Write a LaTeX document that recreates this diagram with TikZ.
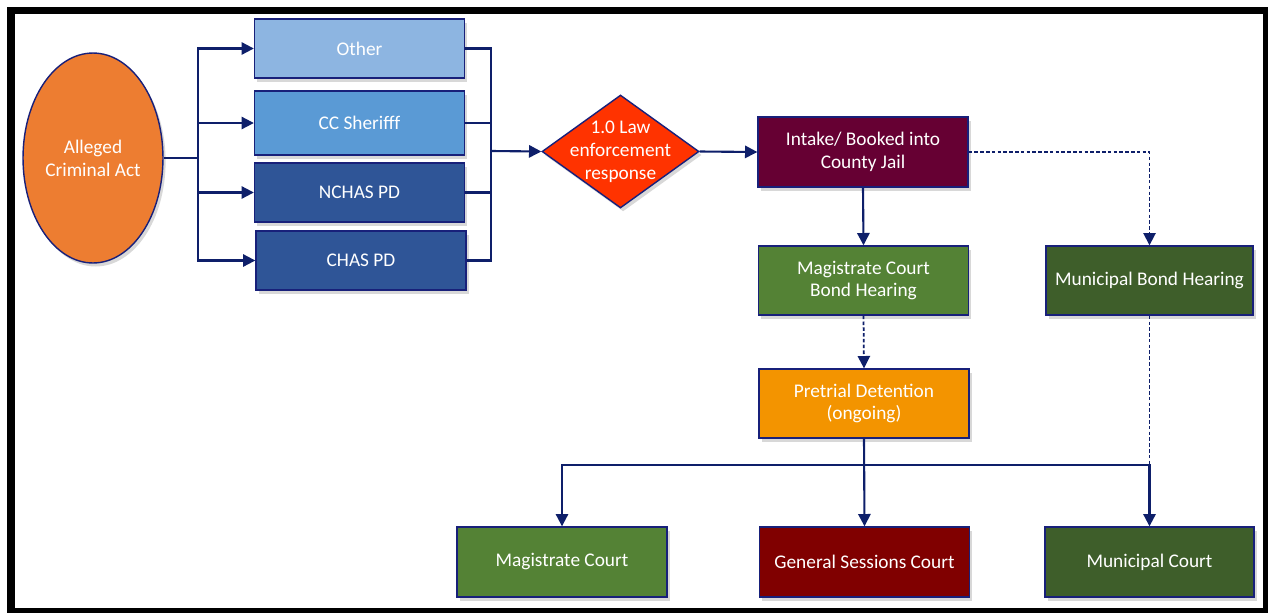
\documentclass[tikz,border=0pt]{standalone}
\usepackage{fontspec}
\setmainfont{Carlito}
\usetikzlibrary{shapes.geometric,shadows,arrows.meta}

\definecolor{trait}{HTML}{0E1F6A}
\definecolor{bordure}{HTML}{18207A}
\definecolor{orangeActe}{HTML}{ED7D31}
\definecolor{bleuClair}{HTML}{8DB5E1}
\definecolor{bleuMoyen}{HTML}{5A9AD5}
\definecolor{bleuFonce}{HTML}{2F5597}
\definecolor{rougeLoi}{HTML}{FF3300}
\definecolor{bordeaux}{HTML}{660033}
\definecolor{vert}{HTML}{548235}
\definecolor{vertFonce}{HTML}{3E5E2A}
\definecolor{orangeDet}{HTML}{F39400}
\definecolor{marron}{HTML}{800000}

\begin{document}
\begin{tikzpicture}[x=0.02cm, y=-0.02cm, font=\fontsize{11}{13}\selectfont,
  boite/.style={draw=bordure, line width=0.8pt, text=white, align=center,
    minimum width=4.2cm, minimum height=1.2cm, inner sep=2pt,
    drop shadow={shadow xshift=1.5pt, shadow yshift=-2pt, opacity=0.3}},
  lien/.style={draw=trait, line width=1.2pt},
  pointe/.style={-{Triangle[length=7pt,width=7pt]}},
  tirets/.style={draw=trait, line width=1pt, dash pattern=on 2pt off 1.3pt}]

% --- Cadre ---
\useasboundingbox (0,0) rectangle (1268,613);
\fill[black] (7,7) rectangle (1268,613);
\fill[white] (15,14) rectangle (1263,608);

% --- Acte et forces de l'ordre ---
\node[boite, shape=ellipse, fill=orangeActe, inner sep=0pt,
  minimum width=2.8cm, minimum height=4.2cm] (acte) at (93,158) {Alleged\\Criminal Act};
\node[boite, fill=bleuClair, minimum height=1.18cm] (autre)  at (359.5,48.5) {Other};
\node[boite, fill=bleuMoyen, minimum height=1.28cm] (sherif) at (359.5,123)  {CC Sherifff};
\node[boite, fill=bleuFonce, minimum height=1.18cm] (nchas)  at (359.5,192.5) {NCHAS PD};
\node[boite, fill=bleuFonce, minimum height=1.18cm] (chas)   at (361,260.5)  {CHAS PD};

% --- Losange ---
\node[boite, shape=diamond, fill=rougeLoi, inner sep=0pt,
  minimum width=3.14cm, minimum height=2.26cm] (loi) at (620.5,151.5) {};
\node[text=white, align=center] at (loi) {1.0 Law\\enforcement\\response};

% --- Prison et audiences ---
\node[boite, fill=bordeaux, minimum height=1.4cm]  (intake)  at (863,152)    {Intake/ Booked into\\County Jail};
\node[boite, fill=vert, minimum height=1.38cm]     (magbond) at (863.5,280.5) {Magistrate Court\\Bond Hearing};
\node[boite, fill=vertFonce, minimum width=4.14cm, minimum height=1.38cm] (munbond) at (1149.5,280.5) {Municipal Bond Hearing};
\node[boite, fill=orangeDet, minimum height=1.38cm] (detention) at (864,403.5) {Pretrial Detention\\(ongoing)};

% --- Tribunaux ---
\node[boite, fill=vert, minimum height=1.4cm]      (magcourt) at (562,562)    {Magistrate Court};
\node[boite, fill=marron, minimum height=1.4cm]    (gencourt) at (864.5,562)  {General Sessions Court};
\node[boite, fill=vertFonce, minimum width=4.18cm, minimum height=1.4cm] (muncourt) at (1149.5,562) {Municipal Court};

% --- Bus gauche et droit ---
\coordinate (busG) at (198,158);
\coordinate (busD) at (491,151);
\draw[lien] (acte.east) -- (busG);
\foreach \b in {autre,sherif,nchas,chas}{
  \draw[lien, pointe] (busG) |- (\b.west);
  \draw[lien] (\b.east) -| (busD);
}
\draw[lien, pointe] (busD) -- (loi.west);
\draw[lien, pointe] (loi.east) -- (intake.west);

% --- Liaisons vers les audiences ---
\draw[lien, pointe] (intake.south) -- (magbond.north);
\draw[tirets, pointe] (intake.east) -| (munbond.north);
\draw[tirets, pointe] (magbond.south) -- (detention.north);

% --- Liaisons vers les tribunaux ---
\coordinate (busB) at (864,465);
\draw[lien, pointe] (detention.south) -- (gencourt.north);
\draw[lien, pointe] (busB) -| (magcourt.north);
\draw[lien, pointe] (busB) -| (muncourt.north);
\draw[tirets] (munbond.south) -- (munbond.south |- busB);

\end{tikzpicture}
\end{document}
